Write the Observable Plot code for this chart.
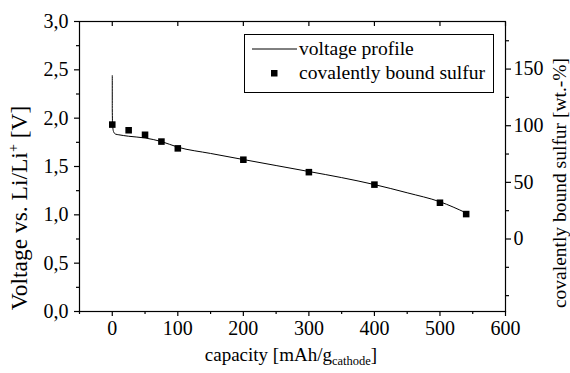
<!DOCTYPE html>
<html><head><meta charset="utf-8">
<script src="https://cdn.jsdelivr.net/npm/d3@7"></script>
<script src="https://cdn.jsdelivr.net/npm/@observablehq/plot@0.6"></script>
<style>
body{margin:0;background:#fff;}
#wrap{position:relative;width:570px;height:373px;font-family:"Liberation Serif","Times New Roman","DejaVu Serif",serif;}
#wrap svg{font-family:"Liberation Serif","Times New Roman","DejaVu Serif",serif;}
.legend{position:absolute;left:244px;top:34px;width:250px;height:59px;border:1px solid #000;box-sizing:border-box;background:#fff;font-size:19.6px;color:#000}
.legend .row{position:absolute;left:0;height:22px;line-height:22px;white-space:nowrap}
.legend .sym{position:absolute;left:7px;width:46px;height:22px}
.legend .lab{position:absolute;left:54px}
</style></head><body><div id="wrap"></div>
<script>
// voltage profile (capacity in mAh/g_cathode, voltage in V)
const profileCapacity = [0, 0, 0.5, 2, 5, 10, 25, 50, 75, 100, 150, 200, 250, 300, 350, 400, 450, 500, 540];
const profileVoltage  = [2.44, 2.10, 1.93, 1.86, 1.835, 1.828, 1.813, 1.795, 1.758, 1.70, 1.635, 1.572, 1.51, 1.448, 1.385, 1.313, 1.228, 1.135, 1.02];
// covalently bound sulfur (wt.-%)
const sulfurCapacity = [0, 25, 50, 75, 100, 200, 300, 400, 500, 540];
const sulfurContent  = [101, 96, 92, 86, 80, 70, 59, 48, 32, 22];
// axes
const xDomain = [-50, 600];
const xTicks = [0, 100, 200, 300, 400, 500, 600];
const xMinorTicks = [-50, 50, 150, 250, 350, 450, 550];
const voltDomain = [0, 3];
const voltTicks = [0, 0.5, 1, 1.5, 2, 2.5, 3];
const voltMinorTicks = [0.25, 0.75, 1.25, 1.75, 2.25, 2.75];
const sulfurDomain = [-64, 192];
const sulfurTicks = [0, 50, 100, 150];
const sulfurMinorTicks = [-50, -25, 25, 75, 125, 175];

const s2v = d3.scaleLinear(sulfurDomain, voltDomain);
const profile = profileCapacity.map((c, i) => ({c, v: profileVoltage[i]}));
const sulfur = sulfurCapacity.map((c, i) => ({c, s: sulfurContent[i]}));
const fmtV = d => d.toFixed(1).replace(".", ",");
const fam = '"Liberation Serif","Times New Roman","DejaVu Serif",serif';

const chart = Plot.plot({
  width: 570, height: 373,
  marginLeft: 79, marginRight: 65, marginTop: 21, marginBottom: 62,
  style: {fontSize: "20px", fontFamily: fam, color: "#000", background: "#fff", overflow: "visible"},
  x: {domain: xDomain},
  y: {domain: voltDomain},
  marks: [
    Plot.frame({stroke: "#000", strokeWidth: 1.2}),
    Plot.axisX(xTicks, {anchor: "bottom", tickSize: 5, tickPadding: 4, tickFormat: d => String(d), label: null, strokeWidth: 1.2}),
    Plot.axisX(xMinorTicks, {anchor: "bottom", tickSize: 3, tickFormat: () => "", label: null, strokeWidth: 1.2}),
    Plot.axisX(xTicks, {anchor: "top", tickSize: -4, tickFormat: () => "", label: null, strokeWidth: 1.2}),
    Plot.axisY(voltTicks, {anchor: "left", tickSize: 5, tickPadding: 6, tickFormat: fmtV, label: null, strokeWidth: 1.2}),
    Plot.axisY(voltMinorTicks, {anchor: "left", tickSize: 3, tickFormat: () => "", label: null, strokeWidth: 1.2}),
    Plot.axisY(sulfurTicks.map(s2v), {anchor: "right", tickSize: 5, tickPadding: 3, tickFormat: v => String(Math.round(s2v.invert(v))), label: null, strokeWidth: 1.2}),
    Plot.axisY(sulfurMinorTicks.map(s2v), {anchor: "right", tickSize: 3, tickFormat: () => "", label: null, strokeWidth: 1.2}),
    Plot.line(profile, {x: "c", y: "v", stroke: "#000", strokeWidth: 1, curve: "monotone-x"}),
    Plot.dot(sulfur, {x: "c", y: d => s2v(d.s), symbol: "square", r: 3.7, fill: "#000", stroke: "none"})
  ]
});

const svg = d3.select(chart);
// x label with subscript
const xl = svg.append("text").attr("x", 291).attr("y", 361).attr("text-anchor", "middle")
  .attr("font-size", 19).attr("font-family", fam).attr("fill", "#000");
xl.append("tspan").text("capacity [mAh/g");
xl.append("tspan").attr("font-size", 12.5).attr("dy", 4).text("cathode");
xl.append("tspan").attr("dy", -4).text("]");
// left y label with superscript
const yl = svg.append("text").attr("transform", "translate(27,208) rotate(-90)").attr("text-anchor", "middle")
  .attr("font-size", 23.5).attr("font-family", fam).attr("fill", "#000");
yl.append("tspan").text("Voltage vs. Li/Li");
yl.append("tspan").attr("font-size", 14).attr("dy", -9).text("+");
yl.append("tspan").attr("dy", 9).text(" [V]");
// right y label
svg.append("text").attr("transform", "translate(566,183) rotate(-90)").attr("text-anchor", "middle")
  .attr("font-size", 19.5).attr("font-family", fam).attr("fill", "#000")
  .text("covalently bound sulfur [wt.-%]");

const wrap = document.getElementById("wrap");
wrap.appendChild(chart);
// legend
const lg = document.createElement("div");
lg.className = "legend";
lg.innerHTML = `
<div class="row" style="top:3px;width:100%"><svg class="sym" viewBox="0 0 46 22"><line x1="0" x2="45" y1="11" y2="11" stroke="#000" stroke-width="1"/></svg><span class="lab">voltage profile</span></div>
<div class="row" style="top:27px;width:100%"><svg class="sym" viewBox="0 0 46 22"><rect x="19" y="8" width="6.5" height="6.5" fill="#000"/></svg><span class="lab">covalently bound sulfur</span></div>`;
wrap.appendChild(lg);
</script>
</body></html>
